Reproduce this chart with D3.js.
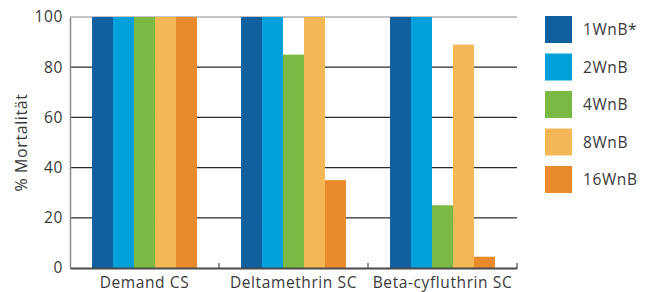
<!DOCTYPE html>
<html>
<head>
<meta charset="utf-8">
<script src="https://cdn.jsdelivr.net/npm/d3@7"></script>
<style>
  body { margin: 0; background: #fff; }
  text { font-family: "Open Sans", sans-serif; fill: #3a3a3a; letter-spacing: 0.6px; }
</style>
</head>
<body>
<script>
// chart data
var products = ["Demand CS", "Deltamethrin SC", "Beta-cyfluthrin SC"];
var series = ["1WnB*", "2WnB", "4WnB", "8WnB", "16WnB"];
var wnb1 = [100, 100, 100];
var wnb2 = [100, 100, 100];
var wnb4 = [100, 85, 25];
var wnb8 = [100, 100, 89];
var wnb16 = [100, 35, 4.5];
var yTicks = [0, 20, 40, 60, 80, 100];
var colors = ["#105f9e", "#00a0db", "#7ab943", "#f3b755", "#e98b2d"];

var seriesValues = [wnb1, wnb2, wnb4, wnb8, wnb16];

var margin = {top: 17, right: 130, bottom: 24, left: 70},
    width = 647 - margin.left - margin.right,
    height = 292 - margin.top - margin.bottom;

var svg = d3.select("body").append("svg")
    .attr("width", 647)
    .attr("height", 292)
  .append("g")
    .attr("transform", "translate(" + margin.left + "," + margin.top + ")");

var x0 = d3.scaleBand().domain(products).range([0, width]);
var x1 = d3.scaleBand().domain(series).range([0, x0.bandwidth()]).paddingOuter(1.05);
var y = d3.scaleLinear().domain([0, 100]).range([height, 0]);
var color = d3.scaleOrdinal().domain(series).range(colors);

// gridlines
svg.selectAll(".grid")
    .data(yTicks.filter(function(d) { return d > 0; }))
  .enter().append("line")
    .attr("x1", 0)
    .attr("x2", width)
    .attr("y1", function(d) { return y(d); })
    .attr("y2", function(d) { return y(d); })
    .attr("stroke", function(d) { return d === 100 ? "#8a8a8a" : "#2a2a2a"; })
    .attr("stroke-width", 1.2);

// bars
var groups = svg.selectAll(".group")
    .data(products)
  .enter().append("g")
    .attr("transform", function(d) { return "translate(" + x0(d) + ",0)"; });

groups.selectAll("rect")
    .data(function(p, i) {
      return series.map(function(s, j) { return {key: s, value: seriesValues[j][i]}; });
    })
  .enter().append("rect")
    .attr("x", function(d) { return x1(d.key); })
    .attr("width", x1.bandwidth())
    .attr("y", function(d) { return y(d.value); })
    .attr("height", function(d) { return height - y(d.value); })
    .attr("fill", function(d) { return color(d.key); });

// y axis
var yAxis = svg.append("g")
    .call(d3.axisLeft(y).tickValues(yTicks).tickSize(0).tickPadding(7));
yAxis.select(".domain").attr("stroke", "#8a8a8a").attr("stroke-width", 1.5);
yAxis.selectAll("text").style("font-size", "15.5px").attr("fill", "#3a3a3a");

// x axis
var xAxis = svg.append("g")
    .attr("transform", "translate(0," + height + ")")
    .call(d3.axisBottom(x0).tickSize(0).tickPadding(9));
xAxis.select(".domain").attr("stroke", "#4a4a4a").attr("stroke-width", 2);
xAxis.selectAll("text").style("font-size", "15.5px").attr("fill", "#3a3a3a");

// small separators between product groups
svg.selectAll(".sep")
    .data(products.slice(1).concat(["end"]))
  .enter().append("line")
    .attr("x1", function(d) { return d === "end" ? width : x0(d); })
    .attr("x2", function(d) { return d === "end" ? width : x0(d); })
    .attr("y1", height)
    .attr("y2", height - 5)
    .attr("stroke", "#4a4a4a")
    .attr("stroke-width", 1.2);

// y title
svg.append("text")
    .attr("transform", "rotate(-90)")
    .attr("x", -height / 2)
    .attr("y", -43)
    .attr("text-anchor", "middle")
    .style("font-size", "16px")
    .text("% Mortalität");

// legend
var ly = d3.scalePoint().domain(series).range([0, 150]);
var legend = svg.append("g")
    .attr("transform", "translate(" + (width + 28) + ",0)");

var items = legend.selectAll(".item")
    .data(series)
  .enter().append("g")
    .attr("transform", function(d) { return "translate(0," + ly(d) + ")"; });

items.append("rect")
    .attr("width", 27)
    .attr("height", 27)
    .attr("y", -1)
    .attr("fill", function(d) { return color(d); });

items.append("text")
    .attr("x", 38)
    .attr("y", 13)
    .attr("dy", "0.35em")
    .style("font-size", "15.5px")
    .text(function(d) { return d; });
</script>
</body>
</html>
